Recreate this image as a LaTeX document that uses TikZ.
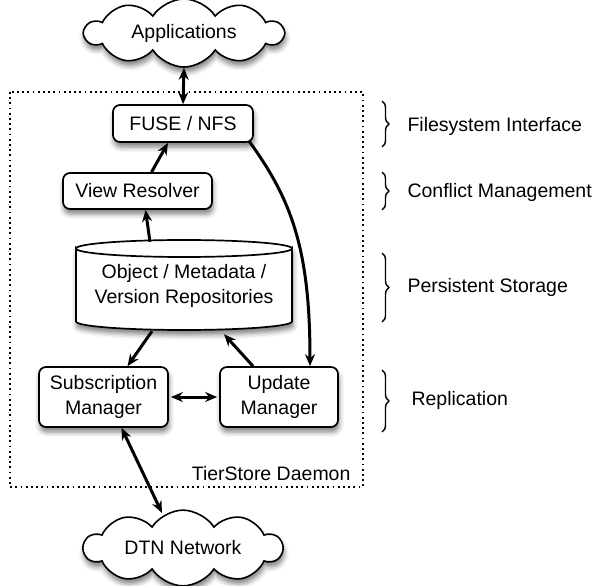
\documentclass[tikz,border=0pt]{standalone}
\usepackage{fontspec}
\setmainfont{Liberation Sans}
\usetikzlibrary{shapes.symbols,arrows.meta,decorations.pathreplacing,shadows.blur,calc}
\begin{document}
\begin{tikzpicture}[x=1pt,y=-1pt,
  txt/.style={font=\fontsize{19.5}{25}\selectfont},
  sh/.style={blur shadow={shadow xshift=1pt,shadow yshift=-5pt,shadow blur radius=5pt,shadow opacity=50}},
  box/.style={txt,draw,line width=1.7pt,rounded corners=7pt,fill=white,align=center,inner sep=0pt,sh},
  cloudnode/.style={txt,cloud,draw,line width=1.6pt,fill=white,cloud puffs=10,cloud puff arc=115,aspect=3.3,inner sep=0pt,minimum width=198pt,minimum height=62pt,sh},
  arr/.style={line width=3pt,-{Stealth[length=12pt,width=10pt]}},
  darr/.style={line width=3pt,{Stealth[length=12pt,width=10pt]}-{Stealth[length=12pt,width=10pt]}},
  brc/.style={decorate,decoration={brace,amplitude=7pt},line width=1.4pt},
  lbl/.style={txt,anchor=west}
]
\useasboundingbox (0,0) rectangle (598,586);

% daemon frame
\draw[line width=1.5pt,dash pattern=on 1.8pt off 3.4pt] (10,92) rectangle (363,487);
\node[txt,anchor=east] (daemon) at (354,474) {TierStore Daemon};

% clouds
\node[cloudnode] (app) at (184,33) {Applications};
\node[cloudnode,minimum height=68pt] (dtn) at (183,548) {DTN Network};

% boxes
\node[box,minimum width=140pt,minimum height=37pt] (fuse) at (183,123.5) {FUSE / NFS};
\node[box,minimum width=149pt,minimum height=36pt] (view) at (137.5,191) {View Resolver};
\node[box,minimum width=129pt,minimum height=60pt] (sub) at (103.5,397) {Subscription\\Manager};
\node[box,minimum width=118pt,minimum height=60pt] (upd) at (279,397) {Update\\Manager};

% cylinder
\path[draw,line width=1.7pt,fill=white,sh]
  (76,248.5) arc[start angle=180,end angle=360,x radius=108pt,y radius=8.5pt]
  -- (292,321.5) arc[start angle=0,end angle=-180,x radius=108pt,y radius=8.5pt] -- cycle;
\draw[line width=1.7pt] (76,248.5) arc[start angle=180,end angle=0,x radius=108pt,y radius=8.5pt];
\node[txt,align=center,minimum width=216pt,minimum height=90pt,inner sep=0pt] (repo) at (184,286) {Object / Metadata /\\Version Repositories};

% connectors
\draw[darr] (app.south) -- (fuse.north);
\draw[arr] ([xshift=14pt]view.north) -- ([xshift=-15pt]fuse.south);
\draw[arr] ([xshift=-34pt,yshift=-1pt]repo.north) -- ([xshift=8pt]view.south);
\draw[arr] ([xshift=-32pt]repo.south) -- ([xshift=24pt]sub.north);
\draw[arr] ([xshift=-26pt]upd.north) -- ([xshift=40pt,yshift=-3pt]repo.south);
\draw[arr] ([xshift=-5pt,yshift=2pt]fuse.south east) .. controls (292,200) and (310,250) .. ([xshift=31pt]upd.north);
\draw[darr] ([xshift=2pt]sub.east) -- ([xshift=-2pt]upd.west);
\draw[darr] ([xshift=18pt]sub.south) -- ($(dtn.center)+(-21,-35)$);

% braces and labels
\draw[brc] (382,101) -- (382,147);
\node[lbl] (l1) at (404,126) {Filesystem Interface};
\draw[brc] (382,172) -- (382,210);
\node[lbl] (l2) at (404,192) {Conflict Management};
\draw[brc] (382,253) -- (382,322);
\node[lbl] (l3) at (404,287) {Persistent Storage};
\draw[brc] (382,370) -- (382,432);
\node[lbl] (l4) at (408,400) {Replication};
\end{tikzpicture}
\end{document}
